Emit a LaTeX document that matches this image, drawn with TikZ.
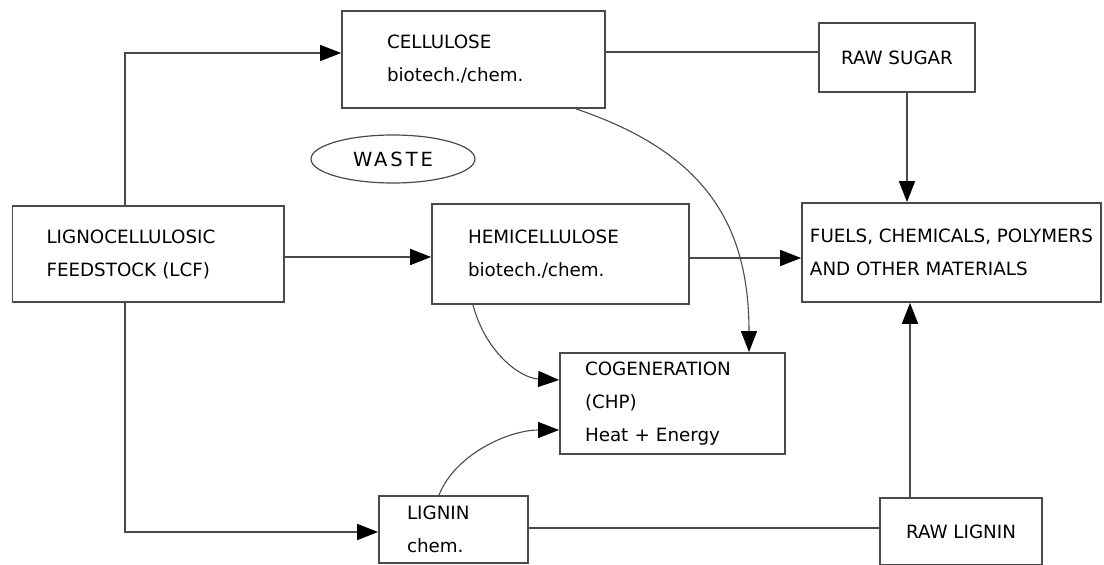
\documentclass[tikz,border=0pt]{standalone}
\usepackage{fontspec}
\setmainfont{DejaVu Sans}
\newfontfamily\wastefont[LetterSpace=15]{DejaVu Sans}
\usetikzlibrary{arrows.meta,shapes.geometric}
\definecolor{linecol}{HTML}{4A4A4A}
\newcommand\bxfont{\fontsize{18.3}{33}\selectfont}
\begin{document}
\begin{tikzpicture}[x=1pt,y=-1pt,
  box/.style={draw=linecol,line width=1.8pt,inner ysep=0pt,align=left,font=\bxfont},
  conn/.style={draw=linecol,line width=1.8pt},
  arr/.style={conn,-{Triangle[length=21pt,width=16pt,color=black]}},
  carr/.style={draw=linecol,line width=1.1pt,-{Triangle[length=21pt,width=16pt,color=black]}}]
\useasboundingbox (0,0) rectangle (1104,565);
% boxes
\node[box,minimum width=263pt,minimum height=97pt,text width=173pt,inner xsep=45pt] (cel) at (473.5,59.5) {CELLULOSE\\biotech./chem.};
\node[box,align=center,minimum width=156pt,minimum height=69pt] (sugar) at (897,57.5) {RAW SUGAR};
\node[box,minimum width=271.5pt,minimum height=96pt,text width=203.5pt,inner xsep=34pt] (lcf) at (148.25,254) {LIGNOCELLULOSIC\\FEEDSTOCK (LCF)};
\node[box,minimum width=257pt,minimum height=100pt,text width=185pt,inner xsep=36pt] (hemi) at (560.5,254) {HEMICELLULOSE\\biotech./chem.};
\node[box,minimum width=299pt,minimum height=99pt,inner xsep=7pt] (fuels) at (951.5,252.5) {FUELS, CHEMICALS, POLYMERS\\AND OTHER MATERIALS};
\node[box,minimum width=225pt,minimum height=101pt,text width=175pt,inner xsep=25pt] (cogen) at (672.5,403.5) {COGENERATION\\(CHP)\\Heat + Energy};
\node[box,minimum width=149pt,minimum height=67pt,text width=93pt,inner xsep=28pt] (lig) at (453.5,529.5) {LIGNIN\\chem.};
\node[box,align=center,minimum width=162pt,minimum height=67pt] (rawlig) at (961,531.5) {RAW LIGNIN};
\node[draw=linecol,line width=1.2pt,ellipse,inner sep=0pt,minimum width=164pt,minimum height=48pt,font=\wastefont\fontsize{19.5}{22}\selectfont] (waste) at (393,159) {WASTE};
% connectors
\draw[arr] ([xshift=-23.25pt]lcf.north) |- ([yshift=6.5pt]cel.west);
\draw[arr] ([yshift=-3pt]lcf.east) -- ([yshift=-3pt]hemi.west);
\draw[arr] ([xshift=-23.25pt]lcf.south) |- ([yshift=-2.5pt]lig.west);
\draw[conn] ([yshift=5.5pt]sugar.west) -- ([yshift=5.5pt]sugar.west -| cel.east);
\draw[arr] ([xshift=10pt]sugar.south) -- ([xshift=10pt]sugar.south |- fuels.north);
\draw[arr] ([yshift=-4pt]hemi.east) -- ([yshift=-4pt]hemi.east -| fuels.west);
\draw[arr] ([xshift=-51pt]rawlig.north) -- ([xshift=-51pt]rawlig.north |- fuels.south);
\draw[conn] ([yshift=1.5pt]lig.east) -- ([yshift=1.5pt]lig.east -| rawlig.west);
\draw[carr] ([xshift=102.5pt]cel.south) .. controls +(124,42) and +(0,-133) .. ([xshift=76.5pt]cogen.north);
\draw[carr] ([xshift=-87.5pt]hemi.south) .. controls +(12,46) and +(-40,-2) .. ([yshift=23.5pt]cogen.west);
\draw[carr] ([xshift=-14.5pt]lig.north) .. controls +(16,-41) and +(-50,0) .. ([yshift=-26.5pt]cogen.west);
\end{tikzpicture}
\end{document}
